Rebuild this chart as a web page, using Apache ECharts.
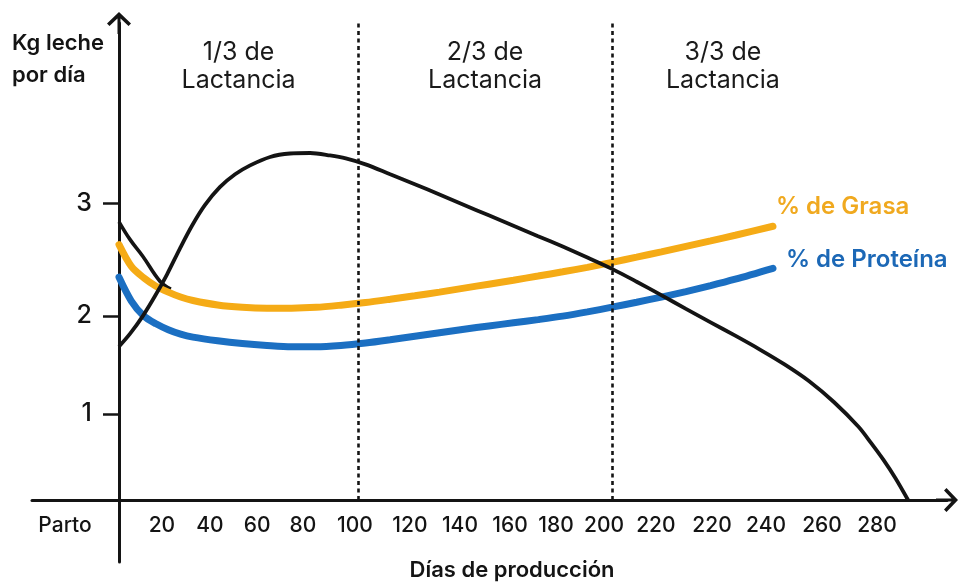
<!DOCTYPE html>
<html>
<head>
<meta charset="utf-8">
<script src="https://cdn.jsdelivr.net/npm/echarts@6.0.0/dist/echarts.min.js"></script>
<style>
html,body{margin:0;padding:0;background:#fff;}
#chart{width:959px;height:582px;}
</style>
</head>
<body>
<div id="chart"></div>
<script>
// ---- Tick labels (positions in axis units) ----
const xTickPos    = [-21.9, 17.4, 36.9, 56, 74.6, 95.7, 118, 138.3, 158.6, 177.3, 196.8, 217.8, 240.6, 262.5, 285.2, 307.5];
const xTickLabels = ['Parto','20','40','60','80','100','120','140','160','180','200','220','220','240','260','280'];
const yTickPos    = [0.87, 1.86, 3.0];
const yTickLabels = ['1','2','3'];

// ---- Lactation thirds ----
const regionBounds = [0, 97, 200, 290];
const regionLabels = ['1/3 de\nLactancia', '2/3 de\nLactancia', '3/3 de\nLactancia'];
const dividers = [97, 200];

// ---- Series (días, valor) ----
const lecheX = [0, 4.5, 9.7, 14.6, 19.5, 24.7, 29.6, 34.9, 40.9, 47.1, 53.2, 61.3, 69.4, 77.5, 85.6, 92, 100, 110, 120, 130, 140, 150, 160, 170, 180, 190, 200, 210, 220, 230, 240, 250, 260, 270, 280, 290, 300, 305, 310, 315, 320.1];
const lecheY = [1.55, 1.68, 1.86, 2.06, 2.28, 2.54, 2.77, 2.98, 3.16, 3.29, 3.38, 3.465, 3.50, 3.505, 3.48, 3.45, 3.39, 3.29, 3.19, 3.085, 2.98, 2.875, 2.77, 2.665, 2.56, 2.45, 2.335, 2.205, 2.07, 1.93, 1.795, 1.66, 1.52, 1.37, 1.20, 0.99, 0.74, 0.58, 0.41, 0.22, 0];

const grasaX = [0, 5, 10, 15, 20, 25, 30, 40, 50, 60, 70, 80, 90, 100, 110, 120, 130, 140, 150, 160, 170, 180, 190, 200, 210, 220, 230, 240, 250, 265.3];
const grasaY = [2.58, 2.36, 2.245, 2.16, 2.10, 2.05, 2.015, 1.97, 1.947, 1.938, 1.938, 1.946, 1.968, 1.995, 2.028, 2.063, 2.10, 2.14, 2.18, 2.22, 2.262, 2.305, 2.35, 2.40, 2.453, 2.507, 2.562, 2.617, 2.674, 2.765];

const protX = [0, 5, 10, 15, 20, 25, 30, 40, 50, 60, 70, 80, 90, 100, 110, 120, 130, 140, 150, 160, 170, 180, 190, 200, 210, 220, 230, 240, 250, 265.3];
const protY = [2.25, 2.01, 1.86, 1.78, 1.72, 1.675, 1.645, 1.608, 1.58, 1.56, 1.547, 1.547, 1.56, 1.585, 1.618, 1.654, 1.69, 1.725, 1.758, 1.79, 1.822, 1.857, 1.90, 1.948, 1.998, 2.05, 2.105, 2.165, 2.23, 2.34];

const inicioX = [0, 4.5, 9.7, 16.6, 21];
const inicioY = [2.81, 2.63, 2.46, 2.21, 2.13];

const zip = (xs, ys) => xs.map((x, i) => [x, ys[i]]);

const X_MIN = -35.3, X_MAX = 335.9, Y_MIN = -0.626, Y_MAX = 4.818;
const FONT = 'Inter, "Open Sans", Lato, sans-serif';
const INK = '#141414';
const YELLOW = '#F5AB16';
const BLUE = '#1B6FC2';
const arrow = 'path://M12,0 L24,11.5 L21.5,14 L12,5 L2.5,14 L0,11.5 Z M10.5,2 L13.5,2 L13.5,22 L10.5,22 Z';

function nearestLabel(v, pos, labels) {
  let best = 0, d = Infinity;
  pos.forEach((p, i) => { const dd = Math.abs(p - v); if (dd < d) { d = dd; best = i; } });
  return labels[best];
}

const chart = echarts.init(document.getElementById('chart'), null, {renderer: 'canvas'});
chart.setOption({
  animation: false,
  backgroundColor: '#ffffff',
  grid: {left: 32, right: 12, top: 23, bottom: 20, containLabel: false, outerBoundsMode: 'none'},
  xAxis: {
    type: 'value', min: X_MIN, max: X_MAX, position: 'bottom', offset: -62,
    splitLine: {show: false},
    axisLine: {show: true, onZero: false, symbol: ['none', arrow], symbolSize: [24, 22],
               lineStyle: {color: INK, width: 3}},
    axisTick: {show: false},
    axisLabel: {
      customValues: xTickPos,
      formatter: v => nearestLabel(v, xTickPos, xTickLabels),
      color: INK, fontFamily: FONT, fontSize: 21, fontWeight: 500, margin: 15
    }
  },
  yAxis: {
    type: 'value', min: Y_MIN, max: Y_MAX, position: 'left', offset: -87,
    splitLine: {show: false},
    axisLine: {show: true, onZero: false, symbol: ['none', arrow], symbolSize: [24, 22],
               lineStyle: {color: INK, width: 3}},
    axisTick: {show: true, customValues: yTickPos, length: 16, lineStyle: {color: INK, width: 2.5}},
    axisLabel: {
      customValues: yTickPos,
      formatter: v => nearestLabel(v, yTickPos, yTickLabels),
      color: INK, fontFamily: FONT, fontSize: 25, fontWeight: 500, margin: 27
    }
  },
  graphic: [
    {type: 'text', x: 12, y: 27, z: 100,
     style: {text: 'Kg leche\npor día', font: '600 22px ' + FONT, fill: INK, lineHeight: 32,
             align: 'left', verticalAlign: 'top'}},
    {type: 'text', x: 512, y: 570, z: 100,
     style: {text: 'Días de producción', font: '600 22px ' + FONT, fill: INK,
             align: 'center', verticalAlign: 'middle'}}
  ],
  series: [
    {
      name: 'Inicio', type: 'line', z: 1,
      data: zip(inicioX, inicioY), smooth: 0.4, showSymbol: false, silent: true,
      lineStyle: {color: INK, width: 3.6}
    },
    {
      name: '% de Grasa', type: 'line', z: 2,
      data: zip(grasaX, grasaY), smooth: 0.3, showSymbol: false, silent: true,
      lineStyle: {color: YELLOW, width: 7, cap: 'round'},
      endLabel: {show: true, formatter: '{a}', distance: 0, offset: [3, -19],
                 color: '#F0A91F', fontFamily: FONT, fontSize: 24, fontWeight: 600}
    },
    {
      name: '% de Proteína', type: 'line', z: 2,
      data: zip(protX, protY), smooth: 0.3, showSymbol: false, silent: true,
      lineStyle: {color: BLUE, width: 7, cap: 'round'},
      endLabel: {show: true, formatter: '{a}', distance: 0, offset: [13, -9],
                 color: '#1C68B6', fontFamily: FONT, fontSize: 24, fontWeight: 600}
    },
    {
      name: 'Kg leche por día', type: 'line', z: 3,
      data: zip(lecheX, lecheY), smooth: 0.3, showSymbol: false, silent: true,
      lineStyle: {color: INK, width: 3.8},
      markLine: {
        silent: true, symbol: ['none', 'none'], label: {show: false},
        lineStyle: {color: INK, width: 2.6, type: [4, 3.5]},
        data: dividers.map(d => [{coord: [d, 0]}, {coord: [d, Y_MAX]}])
      },
      markArea: {
        silent: true,
        itemStyle: {color: 'rgba(0,0,0,0)'},
        label: {show: true, position: 'insideTop', distance: 15, color: '#1a1a1a',
                fontFamily: FONT, fontSize: 25, fontWeight: 400, lineHeight: 28, align: 'center'},
        data: regionLabels.map((t, i) => [{name: t, xAxis: regionBounds[i]}, {xAxis: regionBounds[i + 1]}])
      }
    }
  ]
});
</script>
</body>
</html>
